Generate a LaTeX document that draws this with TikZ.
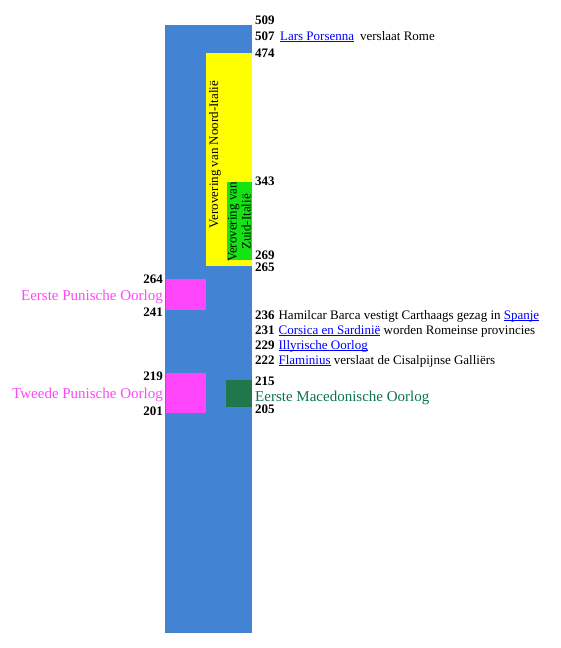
\documentclass[tikz,border=0pt]{standalone}
\usepackage{fontspec}
\setmainfont{Liberation Serif}
\usetikzlibrary{positioning}
\definecolor{barblue}{RGB}{66,131,212}
\definecolor{punic}{RGB}{255,70,250}
\definecolor{macedon}{RGB}{30,120,75}
\definecolor{macedontxt}{RGB}{10,115,80}
\definecolor{north}{RGB}{255,255,0}
\definecolor{south}{RGB}{20,228,20}
\definecolor{linkblue}{RGB}{0,0,255}
\newcommand{\wlink}[1]{\textcolor{linkblue}{\setbox0\hbox{#1}\rlap{\rule[-2pt]{\wd0}{0.8pt}}\box0}}

\begin{document}
\begin{tikzpicture}[x=1pt, y=-1pt,
    year/.style={font=\fontsize{13}{14}\selectfont\bfseries, inner sep=0pt, text height=8.5pt, text depth=0pt},
    event/.style={font=\fontsize{13}{14}\selectfont, inner sep=0pt},
    war/.style={font=\fontsize{15}{17}\selectfont, inner sep=0pt}]
  \useasboundingbox (0,0) rectangle (561,648);

  % Time bar
  \fill[barblue] (165,25) rectangle (252,633);
  \fill[north] (206,53) rectangle (252,266);
  \fill[south] (227,182) rectangle (252,260);
  \fill[punic] (166,279) rectangle (206,310);
  \fill[punic] (166,373) rectangle (206,413);
  \fill[macedon] (226,380) rectangle (252,407);

  % Conquest of Italy
  \node[event, rotate=90] (noord) at (215,154.5) {Verovering van Noord-Italië};
  \node[event, rotate=90, align=center] (zuid) at (239.5,222) {Verovering van\\Zuid-Italië};

  % Years to the right
  \node[year, anchor=base west] (y509) at (255,24) {509};
  \node[year, anchor=base west] (y507) at (255,40) {507};
  \node[year, anchor=base west] (y474) at (255,57) {474};
  \node[year, anchor=base west] (y343) at (255,185) {343};
  \node[year, anchor=base west] (y269) at (255,259.5) {269};
  \node[year, anchor=base west] (y265) at (255,271.5) {265};
  \node[year, anchor=base west] (y236) at (255,319) {236};
  \node[year, anchor=base west] (y231) at (255,334) {231};
  \node[year, anchor=base west] (y229) at (255,349) {229};
  \node[year, anchor=base west] (y222) at (255,364) {222};
  \node[year, anchor=base west] (y215) at (255,385) {215};
  \node[year, anchor=base west] (y205) at (255,413) {205};

  % Events
  \node[event, base right=5pt of y507] (ev507) {\wlink{Lars Porsenna}\hspace{6pt}verslaat Rome};
  \node[event, base right=3.5pt of y236] (ev236) {Hamilcar Barca vestigt Carthaags gezag in \wlink{Spanje}};
  \node[event, base right=3.5pt of y231] (ev231) {\wlink{Corsica en Sardinië} worden Romeinse provincies};
  \node[event, base right=3.5pt of y229] (ev229) {\wlink{Illyrische Oorlog}};
  \node[event, base right=3.5pt of y222] (ev222) {\wlink{Flaminius} verslaat de Cisalpijnse Galliërs};
  \node[war, text=macedontxt, anchor=base west] (mac) at (255,401) {Eerste Macedonische Oorlog};

  % Years and wars to the left
  \node[year, anchor=base east] (y264) at (163,283) {264};
  \node[year, anchor=base east] (y241) at (163,316) {241};
  \node[year, anchor=base east] (y219) at (163,380) {219};
  \node[year, anchor=base east] (y201) at (163,415) {201};
  \node[war, text=punic, anchor=base east] (pun1) at (163,300) {Eerste Punische Oorlog};
  \node[war, text=punic, anchor=base east] (pun2) at (163,398) {Tweede Punische Oorlog};
\end{tikzpicture}
\end{document}
